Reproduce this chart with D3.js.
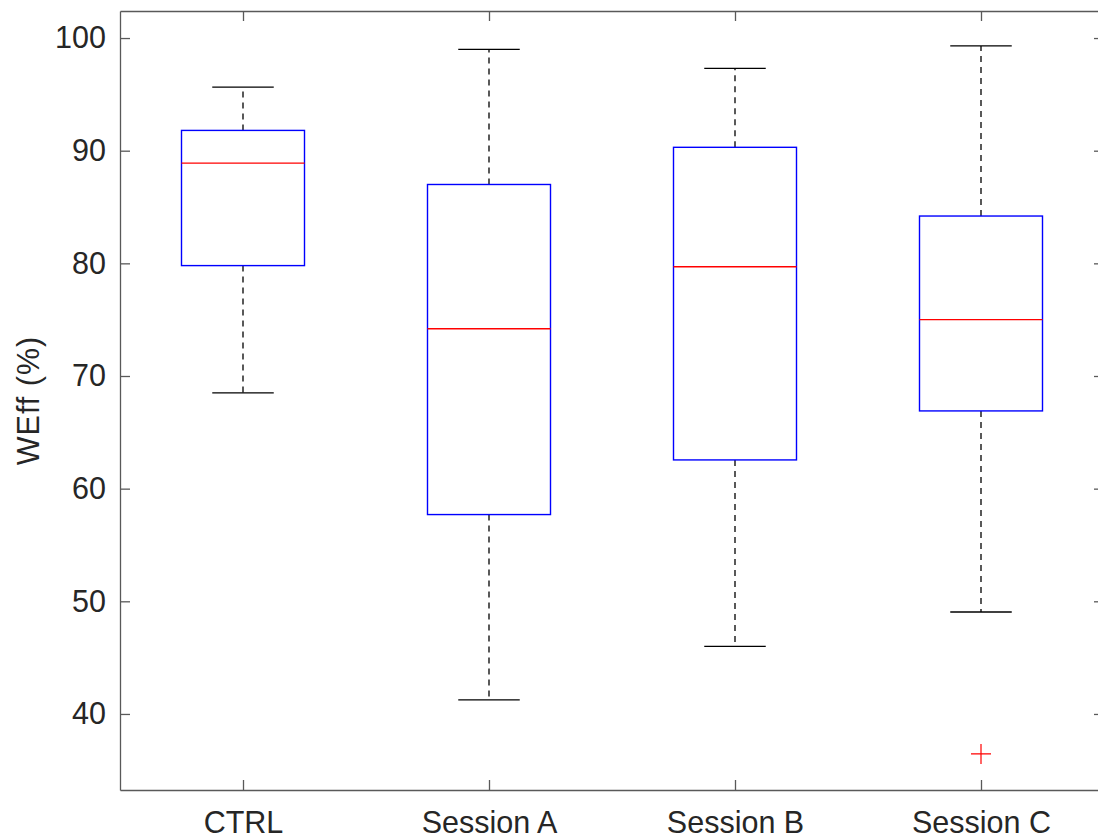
<!DOCTYPE html>
<html>
<head>
<meta charset="utf-8">
<script src="https://cdn.jsdelivr.net/npm/d3@7"></script>
<style>
  body { margin: 0; background: #fff; }
  text { font-family: "Liberation Sans", Arial, sans-serif; fill: #262626; }
</style>
</head>
<body>
<div id="app"></div>
<script>
const groups = ['CTRL', 'Session A', 'Session B', 'Session C'];
const lowerWhisker = [68.5, 41.25, 46.0, 49.05];
const q1 = [79.8, 57.7, 62.55, 66.9];
const median = [88.9, 74.2, 79.7, 75.0];
const q3 = [91.8, 87.0, 90.3, 84.2];
const upperWhisker = [95.65, 99.0, 97.3, 99.3];
const outliers = [[], [], [], [36.45]];
const yTicks = [40, 50, 60, 70, 80, 90, 100];

const width = 1098;
const height = 838;
const margin = { left: 120, right: -6, top: 11, bottom: 48 };
const fontSize = '30.5px';

const svg = d3.select('#app').append('svg').attr('width', width).attr('height', height);

const x = d3.scaleLinear([0.5, groups.length + 0.5], [margin.left, width - margin.right]);
const y = d3.scaleLinear([33.25, 102.4], [height - margin.bottom, margin.top]);

const axisColor = '#595959';

// y axis left + right
const yAxisL = svg.append('g').attr('transform', `translate(${margin.left},0)`)
  .call(d3.axisLeft(y).tickValues(yTicks).tickSizeInner(-10).tickSizeOuter(0).tickPadding(14));
const yAxisR = svg.append('g').attr('transform', `translate(${width - margin.right},0)`)
  .call(d3.axisRight(y).tickValues(yTicks).tickSizeInner(-10).tickSizeOuter(0).tickFormat(''));
const xAxisB = svg.append('g').attr('transform', `translate(0,${height - margin.bottom})`)
  .call(d3.axisBottom(x).tickValues(d3.range(1, groups.length + 1)).tickFormat((d, i) => groups[i])
    .tickSizeInner(-10).tickSizeOuter(0).tickPadding(21));
const xAxisT = svg.append('g').attr('transform', `translate(0,${margin.top})`)
  .call(d3.axisTop(x).tickValues(d3.range(1, groups.length + 1)).tickFormat('')
    .tickSizeInner(-10).tickSizeOuter(0));

[yAxisL, yAxisR, xAxisB, xAxisT].forEach(a => {
  a.select('.domain').attr('stroke', axisColor).attr('stroke-width', 1.3);
  a.selectAll('.tick line').attr('stroke', axisColor).attr('stroke-width', 1.3);
  a.selectAll('text').style('font-size', fontSize).attr('fill', '#262626');
});
xAxisB.selectAll('text').attr('dy', '0.71em');

svg.append('text')
  .attr('transform', `translate(39, ${(y.range()[0] + y.range()[1]) / 2}) rotate(-90)`)
  .attr('text-anchor', 'middle')
  .style('font-size', fontSize)
  .style('letter-spacing', '1px')
  .text('WEff (%)');

const boxW = 0.25;
const capW = 0.125;

const g = svg.append('g').selectAll('g').data(groups).join('g');

// whiskers
g.append('line')
  .attr('x1', (d, i) => x(i + 1)).attr('x2', (d, i) => x(i + 1))
  .attr('y1', (d, i) => y(q3[i])).attr('y2', (d, i) => y(upperWhisker[i]))
  .attr('stroke', '#000').attr('stroke-width', 1.3).attr('stroke-dasharray', '6,5');
g.append('line')
  .attr('x1', (d, i) => x(i + 1)).attr('x2', (d, i) => x(i + 1))
  .attr('y1', (d, i) => y(q1[i])).attr('y2', (d, i) => y(lowerWhisker[i]))
  .attr('stroke', '#000').attr('stroke-width', 1.3).attr('stroke-dasharray', '6,5');
// caps
g.append('line')
  .attr('x1', (d, i) => x(i + 1 - capW)).attr('x2', (d, i) => x(i + 1 + capW))
  .attr('y1', (d, i) => y(upperWhisker[i])).attr('y2', (d, i) => y(upperWhisker[i]))
  .attr('stroke', '#000').attr('stroke-width', 1.3);
g.append('line')
  .attr('x1', (d, i) => x(i + 1 - capW)).attr('x2', (d, i) => x(i + 1 + capW))
  .attr('y1', (d, i) => y(lowerWhisker[i])).attr('y2', (d, i) => y(lowerWhisker[i]))
  .attr('stroke', '#000').attr('stroke-width', 1.3);
// box
g.append('rect')
  .attr('x', (d, i) => x(i + 1 - boxW))
  .attr('width', (d, i) => x(i + 1 + boxW) - x(i + 1 - boxW))
  .attr('y', (d, i) => y(q3[i]))
  .attr('height', (d, i) => y(q1[i]) - y(q3[i]))
  .attr('fill', 'none').attr('stroke', '#0000ff').attr('stroke-width', 1.4);
// median
g.append('line')
  .attr('x1', (d, i) => x(i + 1 - boxW)).attr('x2', (d, i) => x(i + 1 + boxW))
  .attr('y1', (d, i) => y(median[i])).attr('y2', (d, i) => y(median[i]))
  .attr('stroke', '#ff0000').attr('stroke-width', 1.4);
// outliers
g.each(function (d, i) {
  const sel = d3.select(this);
  outliers[i].forEach(v => {
    const cx = x(i + 1), cy = y(v);
    sel.append('path')
      .attr('d', `M${cx - 10},${cy}H${cx + 10}M${cx},${cy - 10}V${cy + 10}`)
      .attr('stroke', '#ff0000').attr('stroke-width', 1.2).attr('fill', 'none');
  });
});
</script>
</body>
</html>
